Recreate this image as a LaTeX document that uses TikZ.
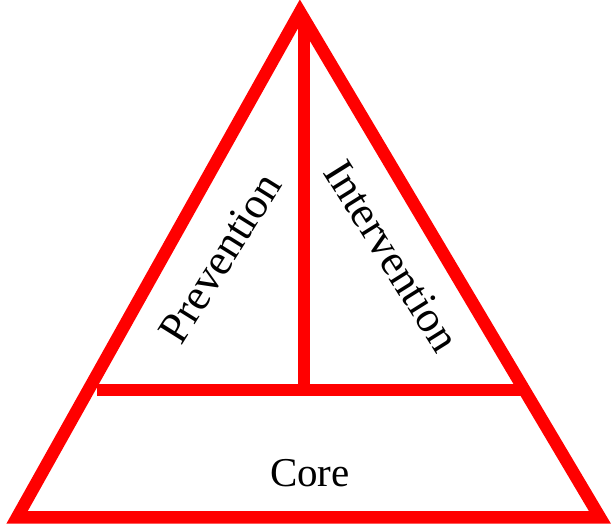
\documentclass[tikz,border=0pt]{standalone}
\usepackage{fontspec}
\setmainfont{Liberation Serif}
\definecolor{tri}{RGB}{255,0,0}
\begin{document}
\begin{tikzpicture}[x=1pt,y=1pt,
  edge/.style={draw=tri,line width=12.5pt,line join=miter},
  lbl/.style={font=\fontsize{44}{48}\selectfont,inner sep=0pt},
  corelbl/.style={font=\fontsize{41}{45}\selectfont,inner sep=0pt}]
\useasboundingbox (0,0) rectangle (611,524);
\coordinate (apex) at (300,512);
\coordinate (bl) at (17,6.5);
\coordinate (br) at (600,6.5);
\coordinate (vtop) at (304,500);
\coordinate (vbot) at (304,138);
\coordinate (hl) at (97,134);
\coordinate (hr) at (528,134);
\draw[edge] (apex) -- (bl) -- (br) -- cycle;
\draw[edge,line cap=butt] (vtop) -- (vbot);
\draw[edge,line cap=butt] (hl) -- (hr);
\node[lbl,rotate=58] (prev) at (220,266) {Prevention};
\node[lbl,rotate=-58] (int) at (392,268) {Intervention};
\node[corelbl] (core) at (310,51) {Core};
\end{tikzpicture}
\end{document}
